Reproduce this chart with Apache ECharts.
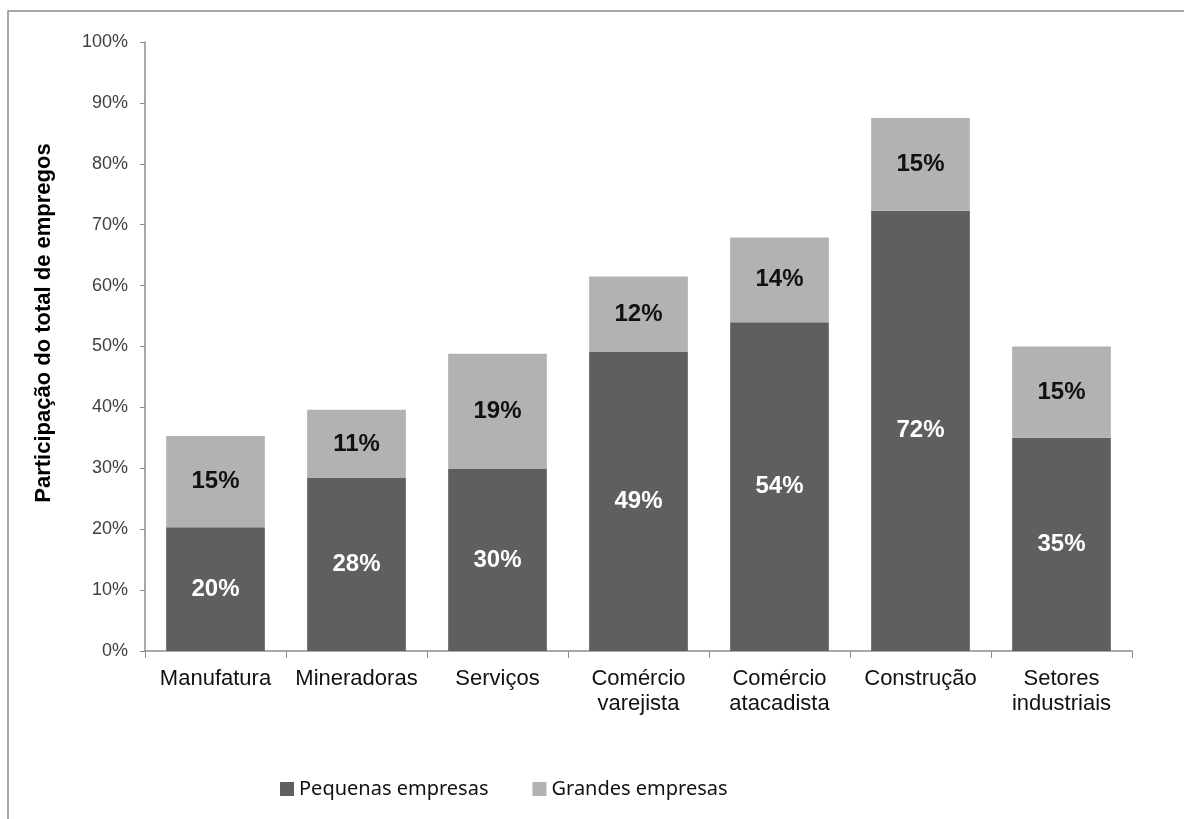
<!DOCTYPE html>
<html lang="pt">
<head>
<meta charset="UTF-8">
<title>Participação do total de empregos</title>
<script src="https://cdn.jsdelivr.net/npm/echarts@6/dist/echarts.min.js"></script>
<style>
  html, body { margin: 0; padding: 0; background: #fff; }
  #chart { width: 1184px; height: 819px; }
</style>
</head>
<body>
<div id="chart"></div>
<script>
// dados (%)
var categorias = ['Manufatura', 'Mineradoras', 'Serviços', 'Comércio\nvarejista', 'Comércio\natacadista', 'Construção', 'Setores\nindustriais'];
var pequenas = [20.3, 28.4, 29.9, 49.1, 54.0, 72.3, 35.0];
var grandes = [15.0, 11.2, 18.9, 12.4, 13.9, 15.2, 15.0];
var nomes = ['Pequenas empresas', 'Grandes empresas'];

var chart = echarts.init(document.getElementById('chart'));

function rotulo(p) {
    return Math.round(p.value) + '%';
}

var option = {
    animation: false,
    backgroundColor: '#fff',
    grid: { left: 145, right: 52, top: 42, bottom: 168 },
    legend: {
        data: nomes,
        left: 275,
        top: 774,
        itemWidth: 14,
        itemHeight: 14,
        itemGap: 44,
        icon: 'rect',
        textStyle: { fontFamily: 'Noto Sans', fontSize: 20, color: '#111' }
    },
    xAxis: {
        type: 'category',
        data: categorias,
        axisLine: { lineStyle: { color: '#8c8c8c', width: 1.5 } },
        axisTick: { show: true, length: 7, lineStyle: { color: '#8c8c8c' } },
        axisLabel: {
            color: '#111',
            fontFamily: 'Liberation Sans',
            fontSize: 22,
            lineHeight: 25,
            margin: 15,
            interval: 0
        }
    },
    yAxis: {
        type: 'value',
        min: 0,
        max: 100,
        interval: 10,
        axisLine: { show: true, lineStyle: { color: '#8c8c8c', width: 1.5 } },
        axisTick: { show: true, length: 5, lineStyle: { color: '#8c8c8c' } },
        splitLine: { show: false },
        axisLabel: {
            formatter: '{value}%',
            color: '#404040',
            fontFamily: 'Liberation Sans',
            fontSize: 18,
            margin: 17
        }
    },
    graphic: [
        {
            type: 'rect',
            shape: { x: 8, y: 11, width: 1400, height: 1000 },
            style: { fill: 'none', stroke: '#8a8a8a', lineWidth: 1.5 },
            silent: true
        },
        {
            type: 'text',
            x: 44,
            y: 323,
            rotation: Math.PI / 2,
            style: {
                text: 'Participação do total de empregos',
                fontFamily: 'Liberation Sans',
                fontWeight: 'bold',
                fontSize: 22,
                fill: '#000',
                textAlign: 'center',
                textVerticalAlign: 'middle'
            }
        }
    ],
    series: [
        {
            name: nomes[0],
            type: 'bar',
            stack: 'total',
            barWidth: '70%',
            data: pequenas,
            itemStyle: { color: '#5f5f5f' },
            label: {
                show: true,
                position: 'inside',
                formatter: rotulo,
                color: '#fff',
                fontFamily: 'Liberation Sans',
                fontWeight: 'bold',
                fontSize: 24
            }
        },
        {
            name: nomes[1],
            type: 'bar',
            stack: 'total',
            barWidth: '70%',
            data: grandes,
            itemStyle: { color: '#b2b2b2' },
            label: {
                show: true,
                position: 'inside',
                formatter: rotulo,
                color: '#111',
                fontFamily: 'Liberation Sans',
                fontWeight: 'bold',
                fontSize: 24
            }
        }
    ]
};

chart.setOption(option);
</script>
</body>
</html>
